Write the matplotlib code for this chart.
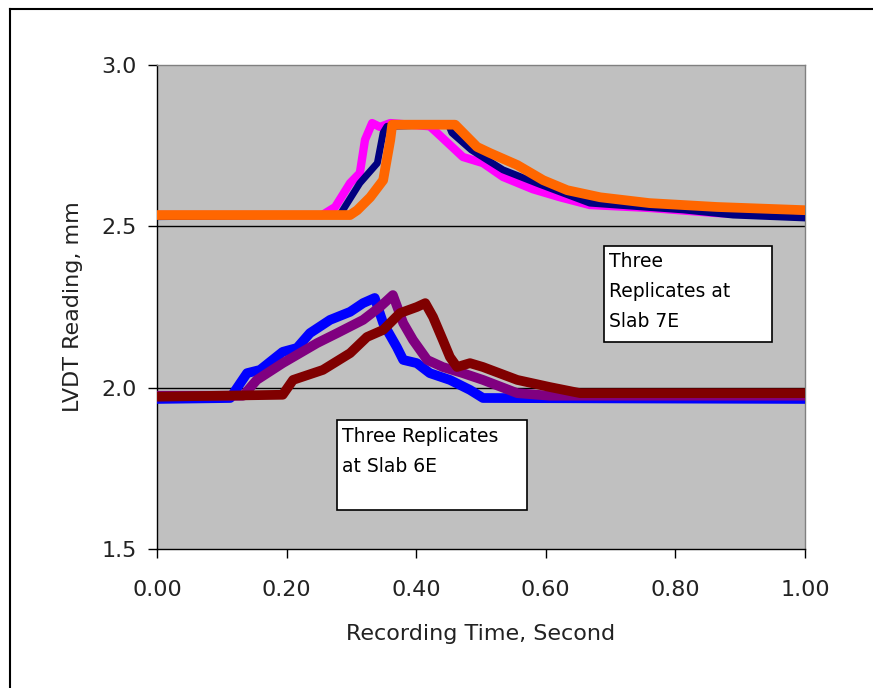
import matplotlib
matplotlib.use('Agg')
import matplotlib.pyplot as plt
from matplotlib.patches import Rectangle
from matplotlib.lines import Line2D

# Slab 7E replicates (upper group)
t_mag = [0.00, 0.255, 0.275, 0.298, 0.313, 0.321, 0.332, 0.344, 0.360, 0.421, 0.432,
         0.472, 0.503, 0.534, 0.580, 0.622, 0.668, 0.760, 0.864, 0.966, 1.00]
v_mag = [2.535, 2.535, 2.560, 2.634, 2.665, 2.768, 2.820, 2.808, 2.820, 2.810, 2.790,
         2.715, 2.696, 2.653, 2.615, 2.590, 2.566, 2.557, 2.541, 2.535, 2.535]

t_navy = [0.00, 0.282, 0.313, 0.340, 0.349, 0.355, 0.450, 0.455, 0.485, 0.534, 0.591,
          0.668, 0.812, 0.889, 1.00]
v_navy = [2.530, 2.535, 2.634, 2.696, 2.790, 2.810, 2.815, 2.790, 2.737, 2.675, 2.630,
          2.572, 2.551, 2.535, 2.526]

t_orange = [0.00, 0.298, 0.309, 0.329, 0.349, 0.360, 0.363, 0.460, 0.494, 0.514, 0.556,
            0.596, 0.633, 0.684, 0.760, 0.864, 1.00]
v_orange = [2.535, 2.535, 2.550, 2.590, 2.643, 2.768, 2.815, 2.815, 2.746, 2.727, 2.690,
            2.643, 2.612, 2.590, 2.572, 2.560, 2.550]

# Slab 6E replicates (lower group)
t_blue = [0.00, 0.113, 0.139, 0.159, 0.194, 0.216, 0.236, 0.267, 0.298, 0.318, 0.336,
          0.349, 0.370, 0.380, 0.401, 0.421, 0.452, 0.483, 0.503, 1.00]
v_blue = [1.965, 1.968, 2.045, 2.055, 2.111, 2.123, 2.169, 2.210, 2.235, 2.262, 2.278,
          2.200, 2.126, 2.086, 2.076, 2.045, 2.024, 1.993, 1.968, 1.965]

t_purple = [0.00, 0.133, 0.154, 0.194, 0.247, 0.278, 0.318, 0.344, 0.364, 0.380, 0.395,
            0.417, 0.441, 0.472, 0.503, 0.556, 0.606, 1.00]
v_purple = [1.975, 1.975, 2.024, 2.076, 2.138, 2.169, 2.210, 2.250, 2.287, 2.200, 2.148,
            2.086, 2.064, 2.045, 2.024, 1.983, 1.975, 1.975]

t_maroon = [0.00, 0.194, 0.210, 0.256, 0.298, 0.324, 0.349, 0.375, 0.401, 0.414, 0.426,
            0.441, 0.452, 0.463, 0.483, 0.503, 0.556, 0.606, 0.653, 1.00]
v_maroon = [1.972, 1.978, 2.024, 2.055, 2.107, 2.157, 2.179, 2.231, 2.250, 2.262, 2.219,
            2.148, 2.095, 2.064, 2.076, 2.064, 2.024, 2.002, 1.983, 1.983]

x_ticks = [0.0, 0.2, 0.4, 0.6, 0.8, 1.0]
y_ticks = [1.5, 2.0, 2.5, 3.0]

plt.rcParams['font.family'] = ['DejaVu Sans']

fig = plt.figure(figsize=(8.73, 6.88), dpi=100)
ax = fig.add_axes([157 / 873, 1 - 549 / 688, 648 / 873, 484 / 688])
ax.set_facecolor('#C0C0C0')

for yv in [2.0, 2.5]:
    ax.axhline(yv, color='black', lw=1.0, zorder=1)

ax.plot(t_mag, v_mag, color='#FF00FF', lw=6, zorder=3)
ax.plot(t_navy, v_navy, color='#000080', lw=5, zorder=4)
ax.plot(t_orange, v_orange, color='#FF6600', lw=7, zorder=5)
ax.plot(t_blue, v_blue, color='#0000FF', lw=7, zorder=3)
ax.plot(t_purple, v_purple, color='#800080', lw=7, zorder=4)
ax.plot(t_maroon, v_maroon, color='#800000', lw=7, zorder=5)

ax.set_xlim(0, 1)
ax.set_ylim(1.5, 3.0)
ax.set_xticks(x_ticks)
ax.set_xticklabels(['%.2f' % v for v in x_ticks])
ax.set_yticks(y_ticks)
ax.set_yticklabels(['%.1f' % v for v in y_ticks])
ax.tick_params(axis='x', direction='out', length=6.5, width=1, pad=16, labelsize=16)
ax.tick_params(axis='y', direction='out', length=6.5, width=1, pad=8, labelsize=16)
for lbl in ax.get_xticklabels() + ax.get_yticklabels():
    lbl.set_color('#222222')

ax.spines['left'].set_color('black')
ax.spines['bottom'].set_color('black')
ax.spines['top'].set_color('#808080')
ax.spines['right'].set_color('#808080')
for s in ax.spines.values():
    s.set_linewidth(1.0)

ax.set_xlabel('Recording Time, Second', fontsize=16, color='#222222', labelpad=17)
ax.set_ylabel('LVDT Reading, mm', fontsize=16, color='#222222', labelpad=13)

# annotation boxes
ax.add_patch(Rectangle((0.690, 0.428), 0.259, 0.198, transform=ax.transAxes,
                       facecolor='white', edgecolor='black', lw=1.2, zorder=6))
ax.text(0.697, 0.614, 'Three\nReplicates at\nSlab 7E', transform=ax.transAxes,
        fontsize=13.5, va='top', ha='left', linespacing=1.75, zorder=7)

ax.add_patch(Rectangle((0.278, 0.081), 0.293, 0.186, transform=ax.transAxes,
                       facecolor='white', edgecolor='black', lw=1.2, zorder=6))
ax.text(0.285, 0.253, 'Three Replicates\nat Slab 6E', transform=ax.transAxes,
        fontsize=13.5, va='top', ha='left', linespacing=1.75, zorder=7)

# outer frame (left and top edges of the original chart border)
fig.add_artist(Line2D([9.5 / 873, 9.5 / 873], [0, 1 - 8.5 / 688], color='black', lw=1.5,
                      transform=fig.transFigure))
fig.add_artist(Line2D([9.5 / 873, 1], [1 - 8.5 / 688, 1 - 8.5 / 688], color='black', lw=1.5,
                      transform=fig.transFigure))

fig.savefig('out.png', dpi=100)
